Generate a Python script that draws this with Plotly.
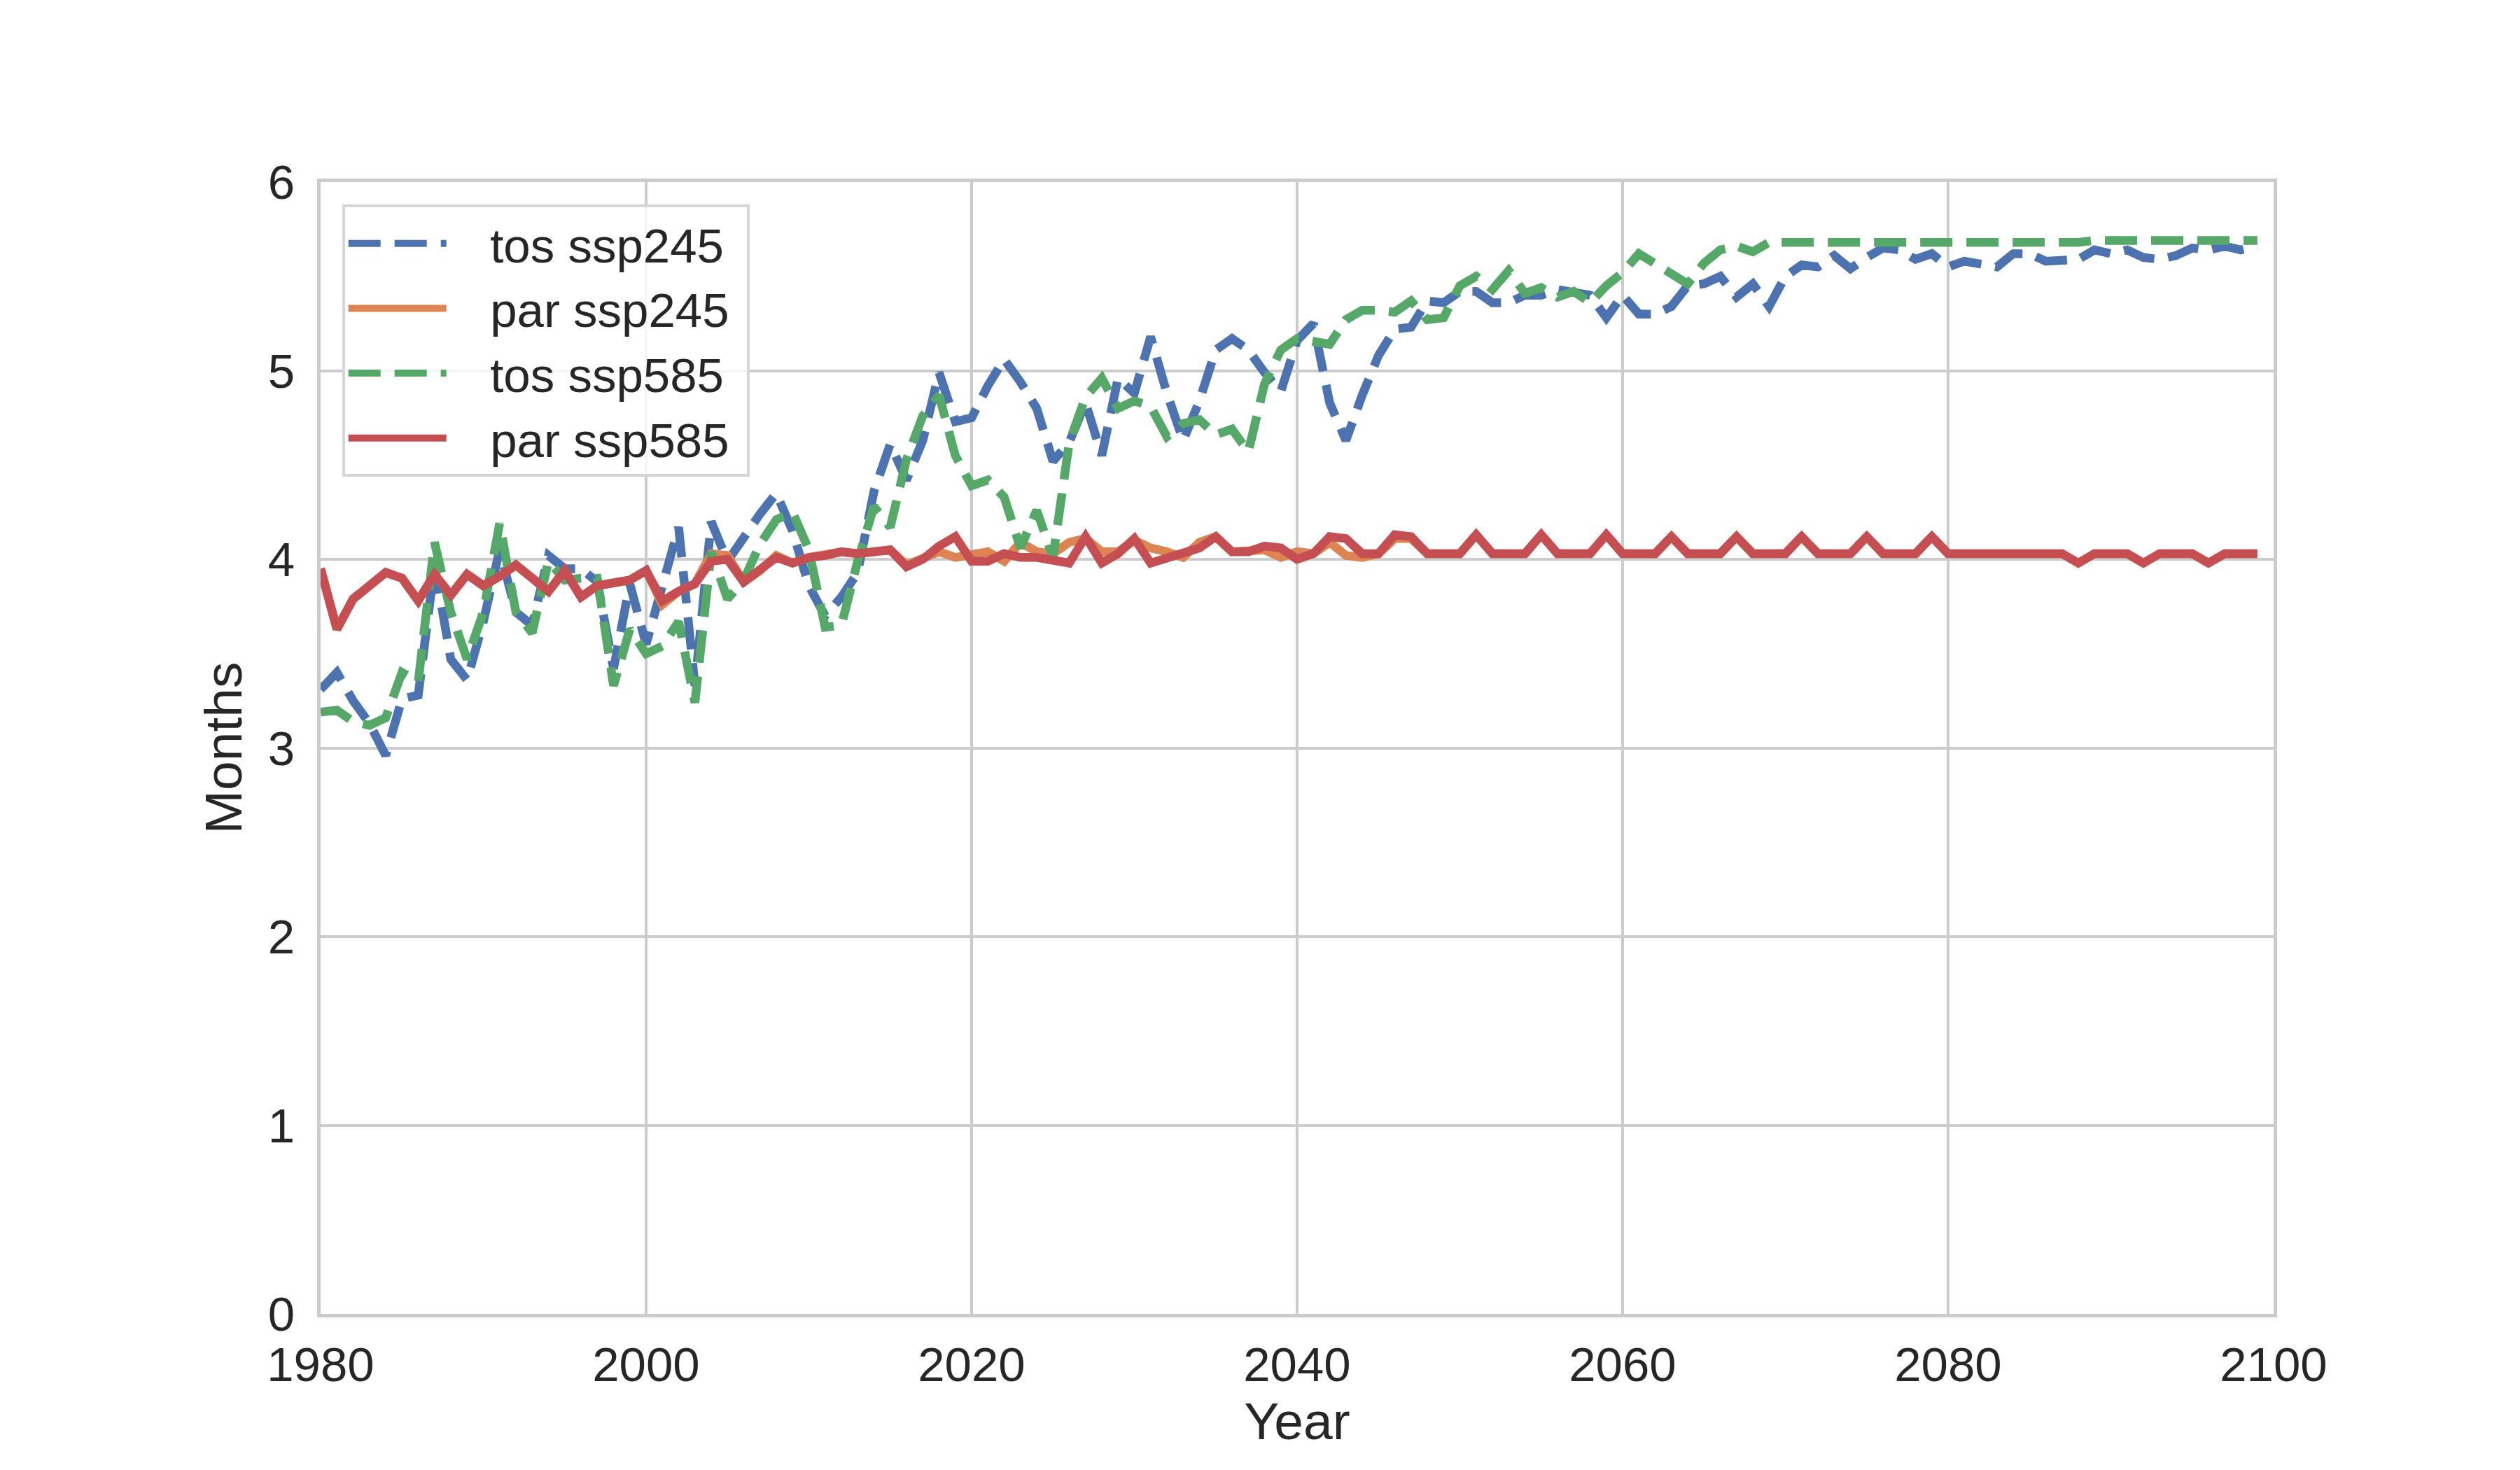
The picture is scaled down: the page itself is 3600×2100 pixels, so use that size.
import plotly.graph_objects as go

years = list(range(1980, 2100))

tos_ssp245 = [
    3.31, 3.40, 3.25, 3.13, 2.96, 3.26, 3.28, 3.97, 3.47, 3.36,
    3.67, 4.05, 3.72, 3.65, 4.02, 3.95, 3.95, 3.88, 3.42, 3.87,
    3.55, 3.88, 4.17, 3.33, 4.20, 3.99, 4.12, 4.24, 4.35, 4.15,
    3.86, 3.70, 3.80, 3.93, 4.36, 4.61, 4.42, 4.63, 4.99, 4.73,
    4.75, 4.92, 5.06, 4.94, 4.80, 4.52, 4.62, 4.83, 4.55, 4.96,
    4.88, 5.18, 4.88, 4.63, 4.84, 5.11, 5.17, 5.11, 4.99, 4.89,
    5.16, 5.25, 4.83, 4.63, 4.87, 5.08, 5.22, 5.23, 5.37, 5.36,
    5.42, 5.42, 5.36, 5.36, 5.40, 5.40, 5.43, 5.41, 5.40, 5.28,
    5.40, 5.30, 5.30, 5.34, 5.45, 5.46, 5.50, 5.39, 5.46, 5.34,
    5.50, 5.56, 5.55, 5.61, 5.54, 5.60, 5.65, 5.64, 5.59, 5.62,
    5.55, 5.58, 5.57, 5.55, 5.62, 5.62, 5.58, 5.58, 5.59, 5.64,
    5.62, 5.64, 5.60, 5.59, 5.61, 5.65, 5.64, 5.66, 5.64, 5.66,
]

par_ssp245 = [
    3.95, 3.63, 3.79, 3.86, 3.93, 3.90, 3.78, 3.92, 3.81, 3.92,
    3.86, 3.91, 3.97, 3.90, 3.83, 3.94, 3.80, 3.86, 3.87, 3.89,
    3.94, 3.76, 3.83, 3.87, 4.03, 4.02, 3.88, 3.94, 4.02, 3.98,
    4.01, 4.02, 4.04, 4.03, 4.04, 4.05, 3.97, 4.00, 4.04, 4.01,
    4.03, 4.04, 3.99, 4.09, 4.04, 4.03, 4.09, 4.11, 4.04, 4.04,
    4.10, 4.06, 4.04, 4.01, 4.09, 4.12, 4.04, 4.04, 4.05, 4.01,
    4.04, 4.03, 4.09, 4.02, 4.01, 4.03, 4.11, 4.11, 4.03, 4.03,
    4.03, 4.13, 4.03, 4.03, 4.03, 4.13, 4.03, 4.03, 4.03, 4.13,
    4.03, 4.03, 4.03, 4.12, 4.03, 4.03, 4.03, 4.12, 4.03, 4.03,
    4.03, 4.12, 4.03, 4.03, 4.03, 4.12, 4.03, 4.03, 4.03, 4.12,
    4.03, 4.03, 4.03, 4.03, 4.03, 4.03, 4.03, 4.03, 3.98, 4.03,
    4.03, 4.03, 3.98, 4.03, 4.03, 4.03, 3.98, 4.03, 4.03, 4.03,
]

tos_ssp585 = [
    3.19, 3.20, 3.14, 3.12, 3.16, 3.40, 3.35, 4.09, 3.72, 3.47,
    3.72, 4.19, 3.72, 3.61, 3.99, 3.89, 3.90, 3.90, 3.33, 3.63,
    3.50, 3.54, 3.67, 3.24, 4.04, 3.79, 3.89, 4.08, 4.21, 4.25,
    4.05, 3.64, 3.65, 3.99, 4.28, 4.17, 4.53, 4.76, 4.87, 4.55,
    4.39, 4.42, 4.33, 4.06, 4.26, 4.01, 4.62, 4.86, 4.96, 4.80,
    4.84, 4.81, 4.65, 4.72, 4.74, 4.66, 4.69, 4.57, 4.93, 5.11,
    5.17, 5.16, 5.14, 5.27, 5.32, 5.32, 5.31, 5.37, 5.27, 5.28,
    5.45, 5.50, 5.43, 5.53, 5.41, 5.44, 5.39, 5.42, 5.36, 5.45,
    5.52, 5.62, 5.57, 5.51, 5.46, 5.57, 5.64, 5.66, 5.63, 5.68,
    5.68, 5.67, 5.67, 5.67, 5.68, 5.67, 5.67, 5.67, 5.67, 5.67,
    5.68, 5.68, 5.68, 5.68, 5.68, 5.68, 5.68, 5.68, 5.68, 5.69,
    5.69, 5.69, 5.69, 5.69, 5.69, 5.69, 5.69, 5.69, 5.69, 5.69,
]

par_ssp585 = [
    3.95, 3.63, 3.79, 3.86, 3.93, 3.90, 3.78, 3.92, 3.81, 3.92,
    3.86, 3.91, 3.97, 3.90, 3.83, 3.94, 3.80, 3.86, 3.87, 3.89,
    3.94, 3.78, 3.83, 3.87, 3.99, 4.00, 3.88, 3.94, 4.01, 3.98,
    4.01, 4.02, 4.04, 4.03, 4.04, 4.05, 3.96, 4.00, 4.07, 4.12,
    3.99, 3.99, 4.03, 4.01, 4.01, 3.99, 3.98, 4.12, 3.98, 4.03,
    4.11, 3.98, 4.01, 4.04, 4.06, 4.12, 4.04, 4.04, 4.07, 4.06,
    4.00, 4.03, 4.12, 4.11, 4.03, 4.03, 4.13, 4.12, 4.03, 4.03,
    4.03, 4.13, 4.03, 4.03, 4.03, 4.13, 4.03, 4.03, 4.03, 4.13,
    4.03, 4.03, 4.03, 4.12, 4.03, 4.03, 4.03, 4.12, 4.03, 4.03,
    4.03, 4.12, 4.03, 4.03, 4.03, 4.12, 4.03, 4.03, 4.03, 4.12,
    4.03, 4.03, 4.03, 4.03, 4.03, 4.03, 4.03, 4.03, 3.98, 4.03,
    4.03, 4.03, 3.98, 4.03, 4.03, 4.03, 3.98, 4.03, 4.03, 4.03,
]

x_ticks = [1980, 2000, 2020, 2040, 2060, 2080, 2100]
y_ticks = [0, 1, 2, 3, 4, 5, 6]

font = 'Liberation Sans, Arial, sans-serif'
ink = '#262626'
grid = '#cccccc'
dash = '46px,20px'
nb = '\u00a0'  # spacing so the legend labels sit where matplotlib put them

fig = go.Figure()
series = [
    ('tos ssp245', tos_ssp245, '#4C72B0', dash),
    ('par ssp245', par_ssp245, '#DD8452', 'solid'),
    ('tos ssp585', tos_ssp585, '#55A868', dash),
    ('par ssp585', par_ssp585, '#C44E52', 'solid'),
]
for name, vals, color, style in series:
    fig.add_trace(go.Scatter(x=years, y=vals, mode='lines',
                             name=nb * 3 + name + nb,
                             legendgroup=name,
                             line=dict(color=color, width=12.5, dash=style)))

fig.update_layout(
    width=3600, height=2100,
    margin=dict(l=450, r=360, t=252, b=231, pad=0),
    paper_bgcolor='white', plot_bgcolor='white',
    font=dict(family=font, color=ink, size=69),
    showlegend=True,
    legend=dict(x=0.011, y=0.98, xanchor='left', yanchor='top',
                bgcolor='rgba(255,255,255,0.8)', bordercolor='#d6d6d6',
                borderwidth=4, font=dict(size=69, color=ink),
                itemwidth=140, tracegroupgap=26, traceorder='normal'),
)
fig.update_xaxes(range=[1980, 2100], tickvals=x_ticks, ticks='',
                 showgrid=True, gridcolor=grid, gridwidth=4,
                 showline=True, linecolor=grid, linewidth=5, mirror=True,
                 zeroline=False, tickfont=dict(size=69, color=ink),
                 ticklabelstandoff=8,
                 title=dict(text='Year', font=dict(size=75, color=ink), standoff=4))
fig.update_yaxes(range=[0, 6], tickvals=y_ticks, ticks='',
                 showgrid=True, gridcolor=grid, gridwidth=4,
                 showline=True, linecolor=grid, linewidth=5, mirror=True,
                 zeroline=False, tickfont=dict(size=69, color=ink),
                 ticklabelstandoff=18,
                 title=dict(text='Months', font=dict(size=75, color=ink), standoff=14))

fig.write_html("out.html")
